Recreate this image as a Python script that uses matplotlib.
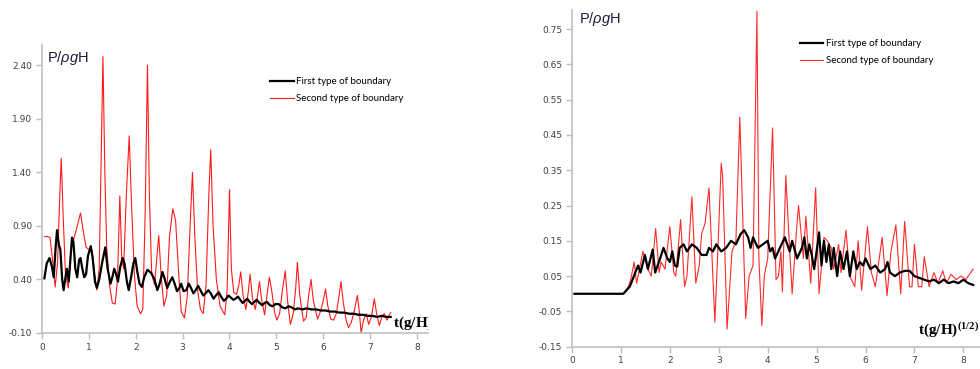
import matplotlib
matplotlib.use("Agg")
import matplotlib.pyplot as plt

plt.rcParams['axes.unicode_minus'] = False
plt.rcParams['mathtext.fontset'] = 'custom'
plt.rcParams['mathtext.rm'] = 'Liberation Serif'
plt.rcParams['mathtext.bf'] = 'Liberation Serif:bold'
plt.rcParams['mathtext.it'] = 'Liberation Sans:italic'

# left chart: second type of boundary (red)
red1_t = [0.05, 0.12, 0.17, 0.22, 0.28, 0.33, 0.38, 0.41, 0.45, 0.50, 0.56, 0.62, 0.68, 0.74, 0.82,
          0.88, 0.94, 1.00, 1.07, 1.12, 1.17, 1.22, 1.26, 1.30, 1.34, 1.38, 1.44, 1.50, 1.56, 1.61,
          1.66, 1.70, 1.74, 1.80, 1.86, 1.91, 1.97, 2.03, 2.10, 2.15, 2.20, 2.25, 2.29, 2.34, 2.40,
          2.44, 2.49, 2.54, 2.60, 2.66, 2.72, 2.79, 2.85, 2.91, 2.97, 3.04, 3.10, 3.16, 3.21, 3.26,
          3.32, 3.38, 3.44, 3.50, 3.56, 3.60, 3.65, 3.72, 3.80, 3.90, 3.95, 4.00, 4.04, 4.09, 4.15,
          4.20, 4.24, 4.29, 4.35, 4.40, 4.44, 4.49, 4.55, 4.60, 4.64, 4.69, 4.75, 4.80, 4.85, 4.90,
          4.96, 5.01, 5.07, 5.13, 5.19, 5.24, 5.30, 5.36, 5.41, 5.45, 5.50, 5.58, 5.64, 5.69, 5.74,
          5.79, 5.88, 5.94, 6.00, 6.05, 6.10, 6.16, 6.22, 6.28, 6.34, 6.38, 6.43, 6.49, 6.54, 6.60,
          6.66, 6.73, 6.77, 6.81, 6.86, 6.92, 6.97, 7.03, 7.09, 7.14, 7.20, 7.25, 7.30, 7.36, 7.40,
          7.44]
red1_p = [0.80, 0.80, 0.79, 0.60, 0.33, 0.55, 1.20, 1.53, 1.00, 0.45, 0.32, 0.70, 0.78, 0.88, 1.02,
          0.85, 0.70, 0.68, 0.67, 0.45, 0.30, 0.50, 1.50, 2.48, 1.40, 0.70, 0.35, 0.18, 0.17, 0.40,
          1.18, 0.60, 0.50, 1.20, 1.74, 1.10, 0.45, 0.15, 0.08, 0.12, 1.00, 2.40, 1.20, 0.45, 0.35,
          0.55, 0.81, 0.45, 0.15, 0.25, 0.80, 1.06, 0.95, 0.50, 0.10, 0.04, 0.25, 0.90, 1.40, 0.80,
          0.30, 0.12, 0.08, 0.35, 1.20, 1.61, 0.90, 0.40, 0.15, 0.07, 0.30, 1.24, 0.50, 0.28, 0.26,
          0.35, 0.47, 0.25, 0.12, 0.28, 0.45, 0.22, 0.12, 0.25, 0.38, 0.20, 0.07, 0.25, 0.42, 0.30,
          0.10, 0.02, 0.08, 0.30, 0.48, 0.20, -0.02, 0.08, 0.30, 0.56, 0.25, 0.01, 0.05, 0.25, 0.40,
          0.20, 0.03, 0.10, 0.20, 0.31, 0.15, 0.03, 0.02, 0.08, 0.25, 0.38, 0.18, 0.02, -0.05, 0.00,
          0.10, 0.25, 0.10, -0.10, 0.02, 0.08, -0.02, 0.05, 0.22, 0.08, -0.03, 0.05, 0.08, 0.02, 0.06,
          0.09]

# left chart: first type of boundary (black)
blk1_t = [0.05, 0.10, 0.16, 0.21, 0.25, 0.29, 0.32, 0.36, 0.39, 0.43, 0.46, 0.50, 0.53, 0.57, 0.60,
          0.64, 0.67, 0.71, 0.75, 0.79, 0.82, 0.86, 0.90, 0.94, 0.98, 1.04, 1.08, 1.13, 1.17, 1.22,
          1.28, 1.35, 1.40, 1.46, 1.50, 1.54, 1.58, 1.62, 1.67, 1.72, 1.76, 1.81, 1.85, 1.90, 1.95,
          1.99, 2.03, 2.08, 2.13, 2.18, 2.25, 2.33, 2.40, 2.46, 2.51, 2.57, 2.62, 2.67, 2.73, 2.78,
          2.83, 2.88, 2.93, 2.97, 3.02, 3.08, 3.13, 3.18, 3.23, 3.28, 3.33, 3.38, 3.44, 3.49, 3.55,
          3.60, 3.66, 3.71, 3.77, 3.82, 3.88, 3.93, 3.98, 4.03, 4.08, 4.13, 4.18, 4.23, 4.28, 4.33,
          4.38, 4.43, 4.48, 4.53, 4.58, 4.64, 4.70, 4.75, 4.80, 4.86, 4.92, 4.98, 5.05, 5.12, 5.20,
          5.26, 5.32, 5.40, 5.47, 5.55, 5.65, 5.75, 5.85, 5.95, 6.05, 6.15, 6.25, 6.35, 6.45, 6.55,
          6.65, 6.75, 6.85, 6.95, 7.05, 7.15, 7.25, 7.35, 7.44]
blk1_p = [0.41, 0.55, 0.60, 0.52, 0.42, 0.70, 0.86, 0.72, 0.68, 0.40, 0.30, 0.42, 0.50, 0.38, 0.55,
          0.79, 0.75, 0.50, 0.42, 0.58, 0.60, 0.50, 0.42, 0.45, 0.62, 0.71, 0.60, 0.38, 0.32, 0.40,
          0.55, 0.70, 0.50, 0.36, 0.42, 0.50, 0.45, 0.38, 0.52, 0.60, 0.55, 0.38, 0.30, 0.42, 0.55,
          0.60, 0.48, 0.36, 0.33, 0.42, 0.49, 0.46, 0.40, 0.30, 0.36, 0.47, 0.40, 0.32, 0.38, 0.42,
          0.36, 0.29, 0.32, 0.36, 0.29, 0.30, 0.36, 0.32, 0.27, 0.30, 0.34, 0.30, 0.25, 0.27, 0.30,
          0.27, 0.22, 0.25, 0.28, 0.24, 0.20, 0.22, 0.25, 0.23, 0.21, 0.22, 0.24, 0.21, 0.18, 0.20,
          0.22, 0.19, 0.17, 0.19, 0.21, 0.18, 0.16, 0.18, 0.19, 0.16, 0.15, 0.17, 0.17, 0.14, 0.13,
          0.15, 0.14, 0.12, 0.13, 0.12, 0.13, 0.12, 0.12, 0.11, 0.11, 0.10, 0.10, 0.09, 0.09, 0.08,
          0.08, 0.07, 0.07, 0.06, 0.06, 0.05, 0.06, 0.05, 0.05]

# right chart: first type of boundary (black)
blk2_t = [0.05, 1.05, 1.18, 1.35, 1.40, 1.49, 1.55, 1.65, 1.70, 1.80, 1.87, 1.95, 2.00, 2.05, 2.10,
          2.15, 2.20, 2.28, 2.35, 2.45, 2.55, 2.65, 2.75, 2.80, 2.88, 2.95, 3.05, 3.15, 3.25, 3.35,
          3.45, 3.52, 3.60, 3.65, 3.70, 3.80, 3.90, 4.00, 4.05, 4.10, 4.15, 4.25, 4.35, 4.45, 4.50,
          4.60, 4.70, 4.75, 4.80, 4.85, 4.90, 4.95, 5.00, 5.05, 5.10, 5.15, 5.20, 5.25, 5.30, 5.35,
          5.42, 5.48, 5.55, 5.62, 5.68, 5.75, 5.82, 5.88, 5.95, 6.00, 6.10, 6.20, 6.30, 6.40, 6.45,
          6.50, 6.60, 6.70, 6.80, 6.90, 7.00, 7.10, 7.20, 7.30, 7.40, 7.50, 7.60, 7.70, 7.80, 7.90,
          8.00, 8.10, 8.20]
blk2_p = [0.0, 0.0, 0.02, 0.08, 0.06, 0.11, 0.07, 0.125, 0.06, 0.10, 0.13, 0.10, 0.09, 0.12, 0.08,
          0.077, 0.13, 0.14, 0.12, 0.14, 0.13, 0.11, 0.11, 0.13, 0.12, 0.14, 0.12, 0.13, 0.15, 0.14,
          0.17, 0.18, 0.16, 0.13, 0.16, 0.13, 0.14, 0.15, 0.12, 0.13, 0.10, 0.13, 0.16, 0.12, 0.15,
          0.10, 0.13, 0.16, 0.10, 0.14, 0.11, 0.07, 0.12, 0.174, 0.08, 0.15, 0.09, 0.14, 0.07, 0.13,
          0.05, 0.12, 0.07, 0.12, 0.05, 0.12, 0.07, 0.09, 0.08, 0.10, 0.07, 0.08, 0.06, 0.07, 0.09,
          0.06, 0.05, 0.06, 0.065, 0.065, 0.05, 0.045, 0.04, 0.035, 0.04, 0.03, 0.04, 0.03, 0.035, 0.03,
          0.04, 0.03, 0.025]

# right chart: second type of boundary (red)
red2_t = [0.05, 1.05, 1.15, 1.20, 1.27, 1.32, 1.45, 1.55, 1.62, 1.71, 1.78, 1.82, 1.90, 2.00, 2.08,
          2.12, 2.22, 2.30, 2.35, 2.45, 2.53, 2.60, 2.65, 2.72, 2.80, 2.92, 2.98, 3.05, 3.08, 3.17,
          3.27, 3.35, 3.43, 3.55, 3.62, 3.70, 3.78, 3.82, 3.88, 3.93, 4.00, 4.10, 4.17, 4.22, 4.27,
          4.30, 4.37, 4.45, 4.50, 4.60, 4.63, 4.73, 4.78, 4.88, 4.98, 5.05, 5.15, 5.22, 5.30, 5.35,
          5.45, 5.50, 5.60, 5.68, 5.78, 5.85, 5.92, 6.04, 6.12, 6.20, 6.34, 6.44, 6.52, 6.62, 6.72,
          6.80, 6.90, 6.95, 7.00, 7.08, 7.15, 7.20, 7.30, 7.40, 7.48, 7.58, 7.65, 7.75, 7.85, 7.95,
          8.05, 8.20]
red2_p = [0.0, 0.0, 0.02, 0.04, 0.09, 0.03, 0.12, 0.07, 0.05, 0.185, 0.06, 0.09, 0.07, 0.19, 0.06,
          0.05, 0.21, 0.02, 0.05, 0.275, 0.03, 0.08, 0.17, 0.20, 0.30, -0.08, 0.12, 0.37, 0.33, -0.10,
          0.12, 0.15, 0.50, -0.07, 0.05, 0.08, 0.80, 0.10, -0.09, 0.05, 0.10, 0.47, 0.04, 0.05, 0.12,
          0.005, 0.335, 0.12, 0.0, 0.20, 0.25, 0.10, 0.22, 0.03, 0.30, 0.0, 0.16, 0.15, 0.13, 0.07,
          0.14, 0.06, 0.18, 0.05, 0.02, 0.15, 0.01, 0.19, 0.06, 0.02, 0.16, -0.005, 0.12, 0.195, 0.0,
          0.205, 0.02, 0.02, 0.14, 0.02, 0.02, 0.105, 0.02, 0.06, 0.03, 0.065, 0.03, 0.055, 0.04, 0.05,
          0.04, 0.07]

y1_ticks = [-0.10, 0.40, 0.90, 1.40, 1.90, 2.40]
y2_ticks = [-0.15, -0.05, 0.05, 0.15, 0.25, 0.35, 0.45, 0.55, 0.65, 0.75]
x_ticks = [0, 1, 2, 3, 4, 5, 6, 7, 8]

fig = plt.figure(figsize=(9.8, 3.69), dpi=100)
ax1 = fig.add_axes([0.0429, 0.0976, 0.394, 0.780])
ax2 = fig.add_axes([0.5837, 0.0604, 0.4163, 0.9125])

ax1.plot(blk1_t, blk1_p, color='black', lw=1.6, label='First type of boundary', zorder=3)
ax1.plot(red1_t, red1_p, color='#ff1a1a', lw=0.8, label='Second type of boundary', zorder=2)
ax2.plot(blk2_t, blk2_p, color='black', lw=1.6, label='First type of boundary', zorder=3)
ax2.plot(red2_t, red2_p, color='#ff2a2a', lw=0.8, label='Second type of boundary', zorder=2)

for ax, yt, ylim, xmax in [(ax1, y1_ticks, (-0.10, 2.587), 8.24),
                           (ax2, y2_ticks, (-0.15, 0.804), 8.34)]:
    ax.set_xlim(0, xmax)
    ax.set_ylim(*ylim)
    ax.set_yticks(yt)
    ax.set_yticklabels(['%.2f' % v for v in yt])
    ax.set_xticks(x_ticks)
    for s in ['top', 'right']:
        ax.spines[s].set_visible(False)
    for s in ['left', 'bottom']:
        ax.spines[s].set_color('#bfbfbf')
        ax.spines[s].set_linewidth(1.2)
    ax.tick_params(direction='out', length=4, width=1, color='#bfbfbf',
                   labelsize=6.5, labelcolor='#404040', pad=3)

# axis titles
ax1.text(0.012, 0.955, r'P/$\it{\rho g}$H', transform=ax1.transAxes, fontsize=10.5,
         family='Liberation Sans', color='#1c1c3c', va='center', ha='left')
ax2.text(0.017, 0.972, r'P/$\it{\rho g}$H', transform=ax2.transAxes, fontsize=10.5,
         family='Liberation Sans', color='#1c1c3c', va='center', ha='left')
ax1.text(7.49, 0.0, r'$\mathbf{t(g/H)^{(1/2)}}$', fontsize=11, va='center', ha='left',
         clip_on=True)
ax2.text(7.07, -0.10, r'$\mathbf{t(g/H)^{(1/2)}}$', fontsize=11, va='center', ha='left')

ax1.legend(loc='upper left', bbox_to_anchor=(0.591, 0.889), frameon=False,
           prop={'family': 'Lato', 'size': 7}, handlelength=2.4, handletextpad=0.3,
           labelspacing=0.85, borderpad=0, borderaxespad=0)
ax2.legend(loc='upper left', bbox_to_anchor=(0.559, 0.914), frameon=False,
           prop={'family': 'Lato', 'size': 7}, handlelength=2.4, handletextpad=0.3,
           labelspacing=0.85, borderpad=0, borderaxespad=0)

fig.savefig('out.png', dpi=100)
